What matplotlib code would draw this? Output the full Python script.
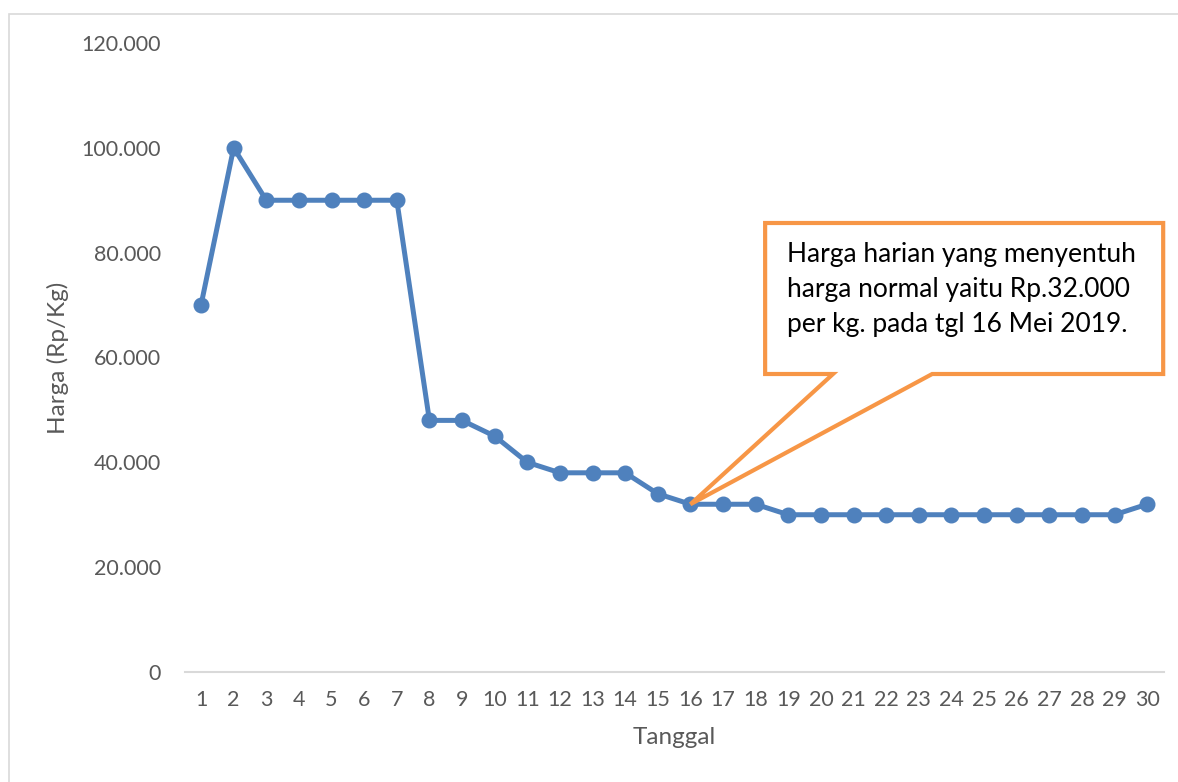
import numpy as np
import matplotlib as mpl
import matplotlib.pyplot as plt
from matplotlib.patches import Polygon, Rectangle
from matplotlib.ticker import FuncFormatter

# data
tanggal = list(range(1, 31))
harga = [70000, 100000, 90000, 90000, 90000, 90000, 90000, 48000, 48000, 45000,
         40000, 38000, 38000, 38000, 34000, 32000, 32000, 32000, 30000, 30000,
         30000, 30000, 30000, 30000, 30000, 30000, 30000, 30000, 30000, 32000]
y_ticks = [0, 20000, 40000, 60000, 80000, 100000, 120000]

callout_text = ("Harga harian yang menyentuh\n"
                "harga normal yaitu Rp.32.000\n"
                "per kg. pada tgl 16 Mei 2019.")
callout_day = 16

mpl.rcParams.update({
    "font.family": ["Lato", "DejaVu Sans"],
})

BLUE = "#4F81BD"
ORANGE = "#F79646"
GREY_TXT = "#595959"

fig = plt.figure(figsize=(11.78, 7.82), dpi=100)
ax = fig.add_axes([0.1568, 0.1407, 0.8309, 0.8043])

# light chart border
fig.patches.append(Rectangle((9 / 1178, -0.05), 1.2, 1 - 13.5 / 782 + 0.05,
                             transform=fig.transFigure, fill=False,
                             edgecolor="#D9D9D9", lw=1.2))

ax.plot(tanggal, harga, color=BLUE, lw=3.6, marker="o", ms=10.5,
        markerfacecolor=BLUE, markeredgecolor=BLUE, zorder=3, clip_on=False)

ax.set_xlim(0.5, 30.5)
ax.set_ylim(0, 120000)
ax.set_xticks(tanggal)
ax.set_yticks(y_ticks)
ax.yaxis.set_major_formatter(FuncFormatter(lambda v, p: f"{int(v):,}".replace(",", ".")))
ax.tick_params(length=0, labelsize=15.5, colors=GREY_TXT)
ax.tick_params(axis="y", pad=17)
ax.tick_params(axis="x", pad=13)
for s in ["top", "right", "left"]:
    ax.spines[s].set_visible(False)
ax.spines["bottom"].set_color("#D9D9D9")
ax.spines["bottom"].set_linewidth(1.5)

ax.set_xlabel("Tanggal", fontsize=17.5, color=GREY_TXT, labelpad=12)
ax.set_ylabel("Harga (Rp/Kg)", fontsize=17.5, color=GREY_TXT, labelpad=9)

# callout box (data units), wedge pointing at the data point of day 16
tip = (callout_day, harga[tanggal.index(callout_day)])
bx0, bx1, by0, by1 = 18.29, 30.49, 56850, 85660
wx0, wx1 = 20.37, 23.41
verts = [(bx0, by0), (bx0, by1), (bx1, by1), (bx1, by0),
         (wx1, by0), tip, (wx0, by0)]
ax.add_patch(Polygon(verts, closed=True, facecolor="white", edgecolor=ORANGE,
                     lw=3.0, joinstyle="miter", zorder=4, clip_on=False))
ax.text(18.96, 82000, callout_text, fontsize=19, color="black",
        va="top", ha="left", linespacing=1.5, zorder=5)

fig.savefig("out.png", dpi=100)
